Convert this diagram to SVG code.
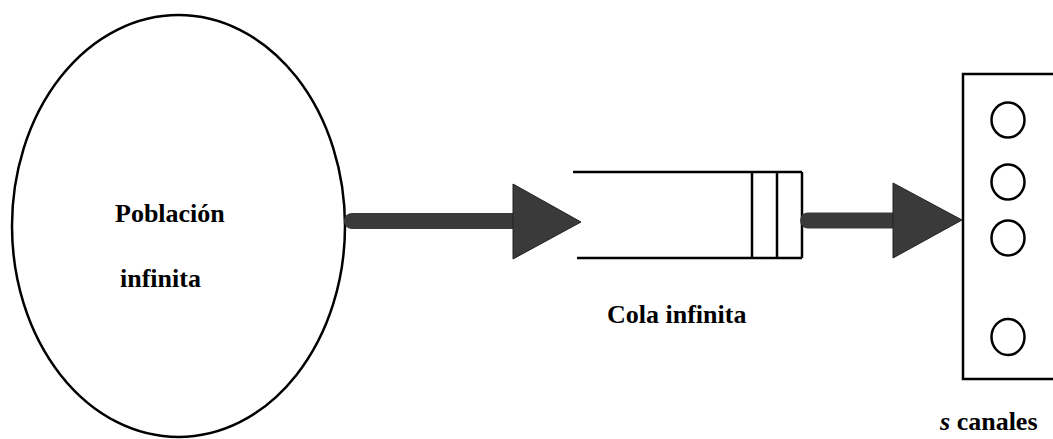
<svg xmlns="http://www.w3.org/2000/svg" width="1053" height="439" viewBox="0 0 1053 439">
<style>
.ln{fill:none;stroke:#000;stroke-width:2.5}
.arr{fill:#3a3a3a;stroke:#222;stroke-width:1}
.shaft{stroke:#3a3a3a;stroke-width:16;stroke-linecap:round;fill:none}
.t{font-family:'Liberation Serif','DejaVu Serif',serif;font-weight:bold;font-size:26px;fill:#000}
</style>
<rect width="1053" height="439" fill="#fff"/>
<g id="poblacion">
<ellipse class="ln" cx="178.5" cy="226" rx="166.5" ry="211"/>
<text class="t" x="115" y="222">Población</text>
<text class="t" x="120" y="287">infinita</text>
</g>
<g id="cola">
<line class="ln" x1="573" y1="172" x2="802" y2="172"/>
<line class="ln" x1="577" y1="258" x2="802" y2="258"/>
<line class="ln" x1="752" y1="172" x2="752" y2="258"/>
<line class="ln" x1="777" y1="172" x2="777" y2="258"/>
<line class="ln" x1="802" y1="172" x2="802" y2="258"/>
<text class="t" x="607" y="323">Cola infinita</text>
</g>
<g id="canales">
<polyline class="ln" points="1055,74 963,74 963,379 1055,379"/>
<ellipse class="ln" cx="1008" cy="120" rx="16.5" ry="17.5"/>
<ellipse class="ln" cx="1008" cy="182" rx="16.5" ry="17.5"/>
<ellipse class="ln" cx="1008" cy="238" rx="16.5" ry="17.5"/>
<ellipse class="ln" cx="1008" cy="337" rx="16.5" ry="18"/>
<text class="t" x="940" y="430"><tspan font-style="italic">s</tspan> canales</text>
</g>
<g id="connectors">
<line class="shaft" x1="352" y1="221" x2="515" y2="221"/>
<polygon class="arr" points="513,184 581,222 513,259"/>
<line class="shaft" x1="808" y1="220.5" x2="896" y2="220.5"/>
<polygon class="arr" points="893,183 962,220 893,258"/>
</g>
</svg>
